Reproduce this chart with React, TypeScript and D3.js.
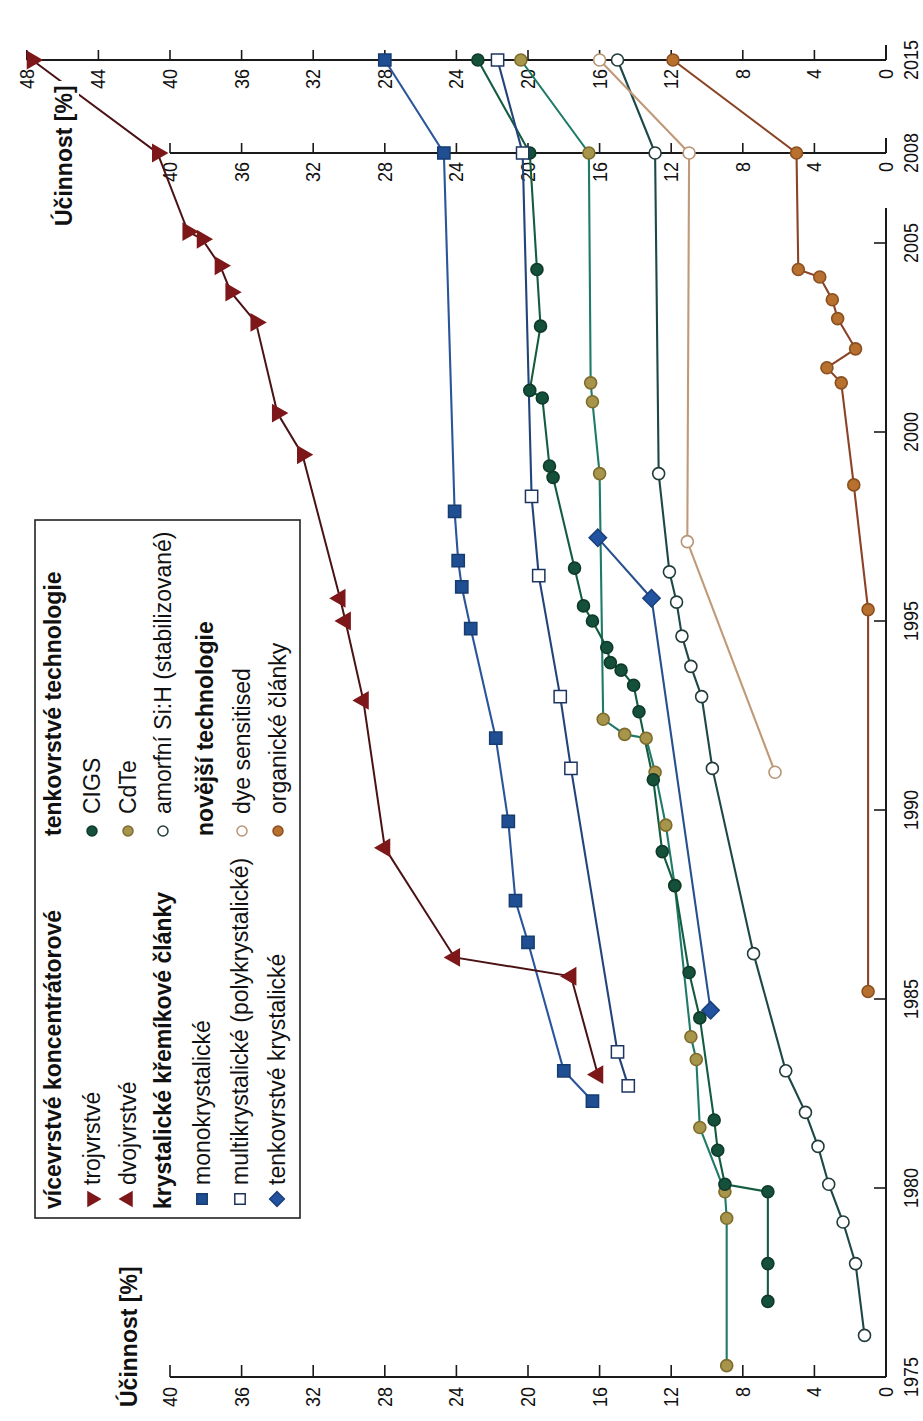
import React from 'react';
import * as d3 from 'd3';

// The chart is laid out in a landscape frame (years along the long side,
// efficiency along the short side) and then turned a quarter turn so that
// it reads bottom-to-top on the portrait page.
const LONG = 1421;
const SHORT = 923;
const FONT = "'Liberation Sans', Arial, Helvetica, sans-serif";

type P = [number, number];

const yearTicks = [1975, 1980, 1985, 1990, 1995, 2000, 2005];
const extraYears = [2008, 2015];
const effTicks = d3.range(0, 41, 4);
const effTicksTop = d3.range(0, 49, 4);

// vícevrstvé koncentrátorové
const dvojvrstve: P[] = [
  [1983.0, 16.1], [1985.6, 17.6], [1986.1, 24.1], [1989.0, 28.0],
  [1992.9, 29.2], [1995.0, 30.2], [1995.6, 30.5],
];
const trojvrstve: P[] = [
  [1999.4, 32.6], [2000.5, 34.0], [2002.9, 35.2], [2003.7, 36.6],
  [2004.4, 37.2], [2005.1, 38.2], [2005.3, 39.0], [2008, 40.7], [2015, 47.7],
];

// krystalické křemíkové články
const mono: P[] = [
  [1982.3, 16.4], [1983.1, 18.0], [1986.5, 20.0], [1987.6, 20.7], [1989.7, 21.1],
  [1991.9, 21.8], [1994.8, 23.2], [1995.9, 23.7], [1996.6, 23.9], [1997.9, 24.1],
  [2008, 24.7], [2015, 28.0],
];
const multi: P[] = [
  [1982.7, 14.4], [1983.6, 15.0], [1991.1, 17.6], [1993.0, 18.2], [1996.2, 19.4],
  [1998.3, 19.8], [2008, 20.3], [2015, 21.7],
];
const thinSi: P[] = [[1984.7, 9.8], [1995.6, 13.1], [1997.2, 16.1]];

// tenkovrstvé technologie
const cigs: P[] = [
  [1977.0, 6.6], [1978.0, 6.6], [1979.9, 6.6], [1980.1, 9.0], [1981.0, 9.4],
  [1981.8, 9.6], [1984.5, 10.4], [1985.7, 11.0], [1988.0, 11.8], [1988.9, 12.5],
  [1990.8, 13.0], [1992.6, 13.8], [1993.3, 14.1], [1993.7, 14.8], [1993.9, 15.4],
  [1994.3, 15.6], [1995.0, 16.4], [1995.4, 16.9], [1996.4, 17.4], [1998.8, 18.6],
  [1999.1, 18.8], [2000.9, 19.2], [2001.1, 19.9], [2002.8, 19.3], [2004.3, 19.5],
  [2008, 19.9], [2015, 22.8],
];
const cdte: P[] = [
  [1975.3, 8.9], [1979.2, 8.9], [1979.9, 9.0], [1981.6, 10.4], [1983.4, 10.6],
  [1984.0, 10.9], [1988.0, 11.8], [1989.6, 12.3], [1991.0, 12.9], [1991.9, 13.4],
  [1992.0, 14.6], [1992.4, 15.8], [1998.9, 16.0], [2000.8, 16.4], [2001.3, 16.5],
  [2008, 16.6], [2015, 20.4],
];
const amorphous: P[] = [
  [1976.1, 1.2], [1978.0, 1.7], [1979.1, 2.4], [1980.1, 3.2], [1981.1, 3.8],
  [1982.0, 4.5], [1983.1, 5.6], [1986.2, 7.4], [1991.1, 9.7], [1993.0, 10.3],
  [1993.8, 10.9], [1994.6, 11.4], [1995.5, 11.7], [1996.3, 12.1], [1998.9, 12.7],
  [2008, 12.9], [2015, 15.0],
];

// novější technologie
const dye: P[] = [[1991.0, 6.2], [1997.1, 11.1], [2008, 11.0], [2015, 16.0]];
const organic: P[] = [
  [1985.2, 1.0], [1995.3, 1.0], [1998.6, 1.8], [2001.3, 2.5], [2001.7, 3.3],
  [2002.2, 1.7], [2003.0, 2.7], [2003.5, 3.0], [2004.1, 3.7], [2004.3, 4.9],
  [2008, 5.0], [2015, 11.9],
];

type Kind = 'triUp' | 'triDown' | 'square' | 'diamond' | 'circle';
interface Series {
  label: string;
  data: P[];
  line: string;
  kind: Kind;
  fill: string;
  stroke: string;
}

const RED = '#7d1719';
const concentrator: P[] = [...dvojvrstve, ...trojvrstve].sort((a, b) => a[0] - b[0]);

const series: Series[] = [
  { label: 'CdTe', data: cdte, line: '#1f7a68', kind: 'circle', fill: '#a8954c', stroke: '#7d6c2c' },
  { label: 'CIGS', data: cigs, line: '#145c40', kind: 'circle', fill: '#15503a', stroke: '#0e3a2a' },
  { label: 'amorfní Si:H (stabilizované)', data: amorphous, line: '#1c4848', kind: 'circle', fill: '#ffffff', stroke: '#223c3c' },
  { label: 'dye sensitised', data: dye, line: '#c09a78', kind: 'circle', fill: '#ffffff', stroke: '#b89474' },
  { label: 'organické články', data: organic, line: '#8a4326', kind: 'circle', fill: '#b8702e', stroke: '#8a5020' },
  { label: 'multikrystalické (polykrystalické)', data: multi, line: '#22447a', kind: 'square', fill: '#ffffff', stroke: '#1d3560' },
  { label: 'tenkovrstvé krystalické', data: thinSi, line: '#27508e', kind: 'diamond', fill: '#2153a0', stroke: '#1a3f7a' },
  { label: 'monokrystalické', data: mono, line: '#2a559a', kind: 'square', fill: '#1f4f92', stroke: '#173c70' },
];

const x = d3.scaleLinear().domain([1975, 2006, 2008, 2015]).range([44, 1215.8, 1268, 1361]);
const y = d3.scaleLinear().domain([0, 48]).range([886, 886 - 48 * 17.9]);

const lineGen = d3.line<P>().x((d) => x(d[0])).y((d) => y(d[1]));

function Marker({ kind, cx, cy, fill, stroke, scale = 1 }: {
  kind: Kind; cx: number; cy: number; fill: string; stroke: string; scale?: number;
}) {
  if (kind === 'circle') {
    return <circle cx={cx} cy={cy} r={6 * scale} fill={fill} stroke={stroke} strokeWidth={1.6} />;
  }
  const shape = kind === 'square' || kind === 'diamond' ? d3.symbolSquare : d3.symbolTriangle;
  const size = (kind === 'square' ? 150 : kind === 'diamond' ? 150 : 115) * scale * scale;
  const rot = kind === 'diamond' ? 45 : kind === 'triDown' ? 180 : 0;
  const d = d3.symbol(shape, size)() || '';
  return (
    <path d={d} transform={`translate(${cx},${cy}) rotate(${rot})`} fill={fill} stroke={stroke} strokeWidth={1.5} />
  );
}

function Label({ u, v, size, bold, anchor, sx = 1, children }: {
  u: number; v: number; size: number; bold?: boolean; anchor?: 'start' | 'middle' | 'end'; sx?: number;
  children: React.ReactNode;
}) {
  return (
    <text
      transform={`translate(${u},${v}) scale(${sx},1)`}
      fontFamily={FONT}
      fontSize={size}
      fontWeight={bold ? 'bold' : 'normal'}
      textAnchor={anchor || 'start'}
      fill="#111"
    >
      {children}
    </text>
  );
}

interface LegendRow { text: string; head?: boolean; kind?: Kind; fill?: string; stroke?: string }

const legendLeft: LegendRow[] = [
  { text: 'vícevrstvé koncentrátorové', head: true },
  { text: 'trojvrstvé', kind: 'triDown', fill: RED, stroke: RED },
  { text: 'dvojvrstvé', kind: 'triUp', fill: RED, stroke: RED },
  { text: 'krystalické křemíkové články', head: true },
  { text: 'monokrystalické', kind: 'square', fill: '#1f4f92', stroke: '#173c70' },
  { text: 'multikrystalické (polykrystalické)', kind: 'square', fill: '#ffffff', stroke: '#1d3560' },
  { text: 'tenkovrstvé krystalické', kind: 'diamond', fill: '#2153a0', stroke: '#1a3f7a' },
];
const legendRight: LegendRow[] = [
  { text: 'tenkovrstvé technologie', head: true },
  { text: 'CIGS', kind: 'circle', fill: '#15503a', stroke: '#0e3a2a' },
  { text: 'CdTe', kind: 'circle', fill: '#a8954c', stroke: '#7d6c2c' },
  { text: 'amorfní Si:H (stabilizované)', kind: 'circle', fill: '#ffffff', stroke: '#223c3c' },
  { text: 'novější technologie', head: true },
  { text: 'dye sensitised', kind: 'circle', fill: '#ffffff', stroke: '#b89474' },
  { text: 'organické články', kind: 'circle', fill: '#b8702e', stroke: '#8a5020' },
];
const legendRowsLeft = [53, 92, 128, 163, 202, 240, 277];
const legendRowsRight = [53, 92, 128, 163, 205, 242, 278];

const TICK_FONT = 20;
const TICK_SX = 0.9;
const LEGEND_FONT = 23;

export default function App() {
  const axisColor = '#1a1a1a';
  return (
    <svg
      width={SHORT}
      height={LONG}
      style={{ position: 'absolute', left: 0, top: 0, background: '#ffffff' }}
    >
      <rect x={0} y={0} width={SHORT} height={LONG} fill="#ffffff" />
      <g transform={`translate(0,${LONG}) rotate(-90)`}>
        {/* main axes */}
        <line x1={x(1975)} x2={x(1975)} y1={y(0)} y2={y(40)} stroke={axisColor} strokeWidth={2} />
        <line x1={x(1975)} x2={1213} y1={y(0)} y2={y(0)} stroke={axisColor} strokeWidth={2} />
        {effTicks.map((e) => (
          <g key={`m${e}`}>
            <line x1={x(1975)} x2={x(1975) + 12} y1={y(e)} y2={y(e)} stroke={axisColor} strokeWidth={1.6} />
            <Label u={x(1975) - 10} v={y(e) + 7} size={TICK_FONT} sx={TICK_SX} anchor="end">{e}</Label>
          </g>
        ))}
        {yearTicks.map((t) => (
          <g key={`y${t}`}>
            {t > 1975 && (
              <line x1={x(t)} x2={x(t)} y1={y(0)} y2={y(0) - 12} stroke={axisColor} strokeWidth={1.6} />
            )}
            <Label u={x(t)} v={918} size={TICK_FONT} sx={TICK_SX} anchor="middle">{t}</Label>
          </g>
        ))}

        {/* side axes for 2008 and 2015 */}
        {extraYears.map((yr) => {
          const top = yr === 2015 ? 48 : 40;
          const ticks = yr === 2015 ? effTicksTop : effTicks;
          return (
            <g key={`ax${yr}`}>
              <line x1={x(yr)} x2={x(yr)} y1={y(0)} y2={y(top)} stroke={axisColor} strokeWidth={2} />
              <line x1={x(yr)} x2={x(yr) + 15} y1={y(0)} y2={y(0)} stroke={axisColor} strokeWidth={2} />
              {ticks.map((e) => (
                <g key={`t${yr}-${e}`}>
                  <line x1={x(yr)} x2={x(yr) + 10} y1={y(e)} y2={y(e)} stroke={axisColor} strokeWidth={1.6} />
                  <Label u={x(yr) - 9} v={y(e) + 7} size={TICK_FONT} sx={TICK_SX} anchor="end">{e}</Label>
                </g>
              ))}
              <Label u={x(yr)} v={918} size={TICK_FONT} sx={TICK_SX} anchor="middle">{yr}</Label>
            </g>
          );
        })}

        {/* series lines */}
        {series.map((s) => (
          <path key={`l-${s.label}`} d={lineGen(s.data) || ''} fill="none" stroke={s.line} strokeWidth={2.1} />
        ))}
        <path d={lineGen(concentrator) || ''} fill="none" stroke="#4a1214" strokeWidth={2} />

        {/* series markers */}
        {series.map((s) =>
          s.data.map((d, i) => (
            <Marker key={`m-${s.label}-${i}`} kind={s.kind} cx={x(d[0])} cy={y(d[1])} fill={s.fill} stroke={s.stroke} />
          ))
        )}
        {dvojvrstve.map((d, i) => (
          <Marker key={`d2-${i}`} kind="triUp" cx={x(d[0])} cy={y(d[1])} fill={RED} stroke={RED} />
        ))}
        {trojvrstve.map((d, i) => (
          <Marker key={`d3-${i}`} kind="triDown" cx={x(d[0])} cy={y(d[1])} fill={RED} stroke={RED} />
        ))}

        {/* axis titles */}
        <Label u={14} v={137} size={23} bold>Účinnost [%]</Label>
        <rect x={1190} y={46} width={150} height={33} fill="#ffffff" />
        <Label u={1195} v={72} size={23} bold>Účinnost [%]</Label>

        {/* legend */}
        <rect x={203} y={35} width={698} height={265} fill="#ffffff" stroke="#222" strokeWidth={1.6} />
        {legendLeft.map((r, i) =>
          r.head ? (
            <Label key={`ll${i}`} u={212} v={legendRowsLeft[i] + 8} size={LEGEND_FONT} bold>{r.text}</Label>
          ) : (
            <g key={`ll${i}`}>
              <Marker kind={r.kind!} cx={222} cy={legendRowsLeft[i]} fill={r.fill!} stroke={r.stroke!} scale={0.85} />
              <Label u={236} v={legendRowsLeft[i] + 8} size={LEGEND_FONT}>{r.text}</Label>
            </g>
          )
        )}
        {legendRight.map((r, i) =>
          r.head ? (
            <Label key={`lr${i}`} u={585} v={legendRowsRight[i] + 8} size={LEGEND_FONT} bold>{r.text}</Label>
          ) : (
            <g key={`lr${i}`}>
              <circle cx={590} cy={legendRowsRight[i]} r={5} fill={r.fill} stroke={r.stroke} strokeWidth={1.5} />
              <Label u={607} v={legendRowsRight[i] + 8} size={LEGEND_FONT}>{r.text}</Label>
            </g>
          )
        )}
      </g>
    </svg>
  );
}
